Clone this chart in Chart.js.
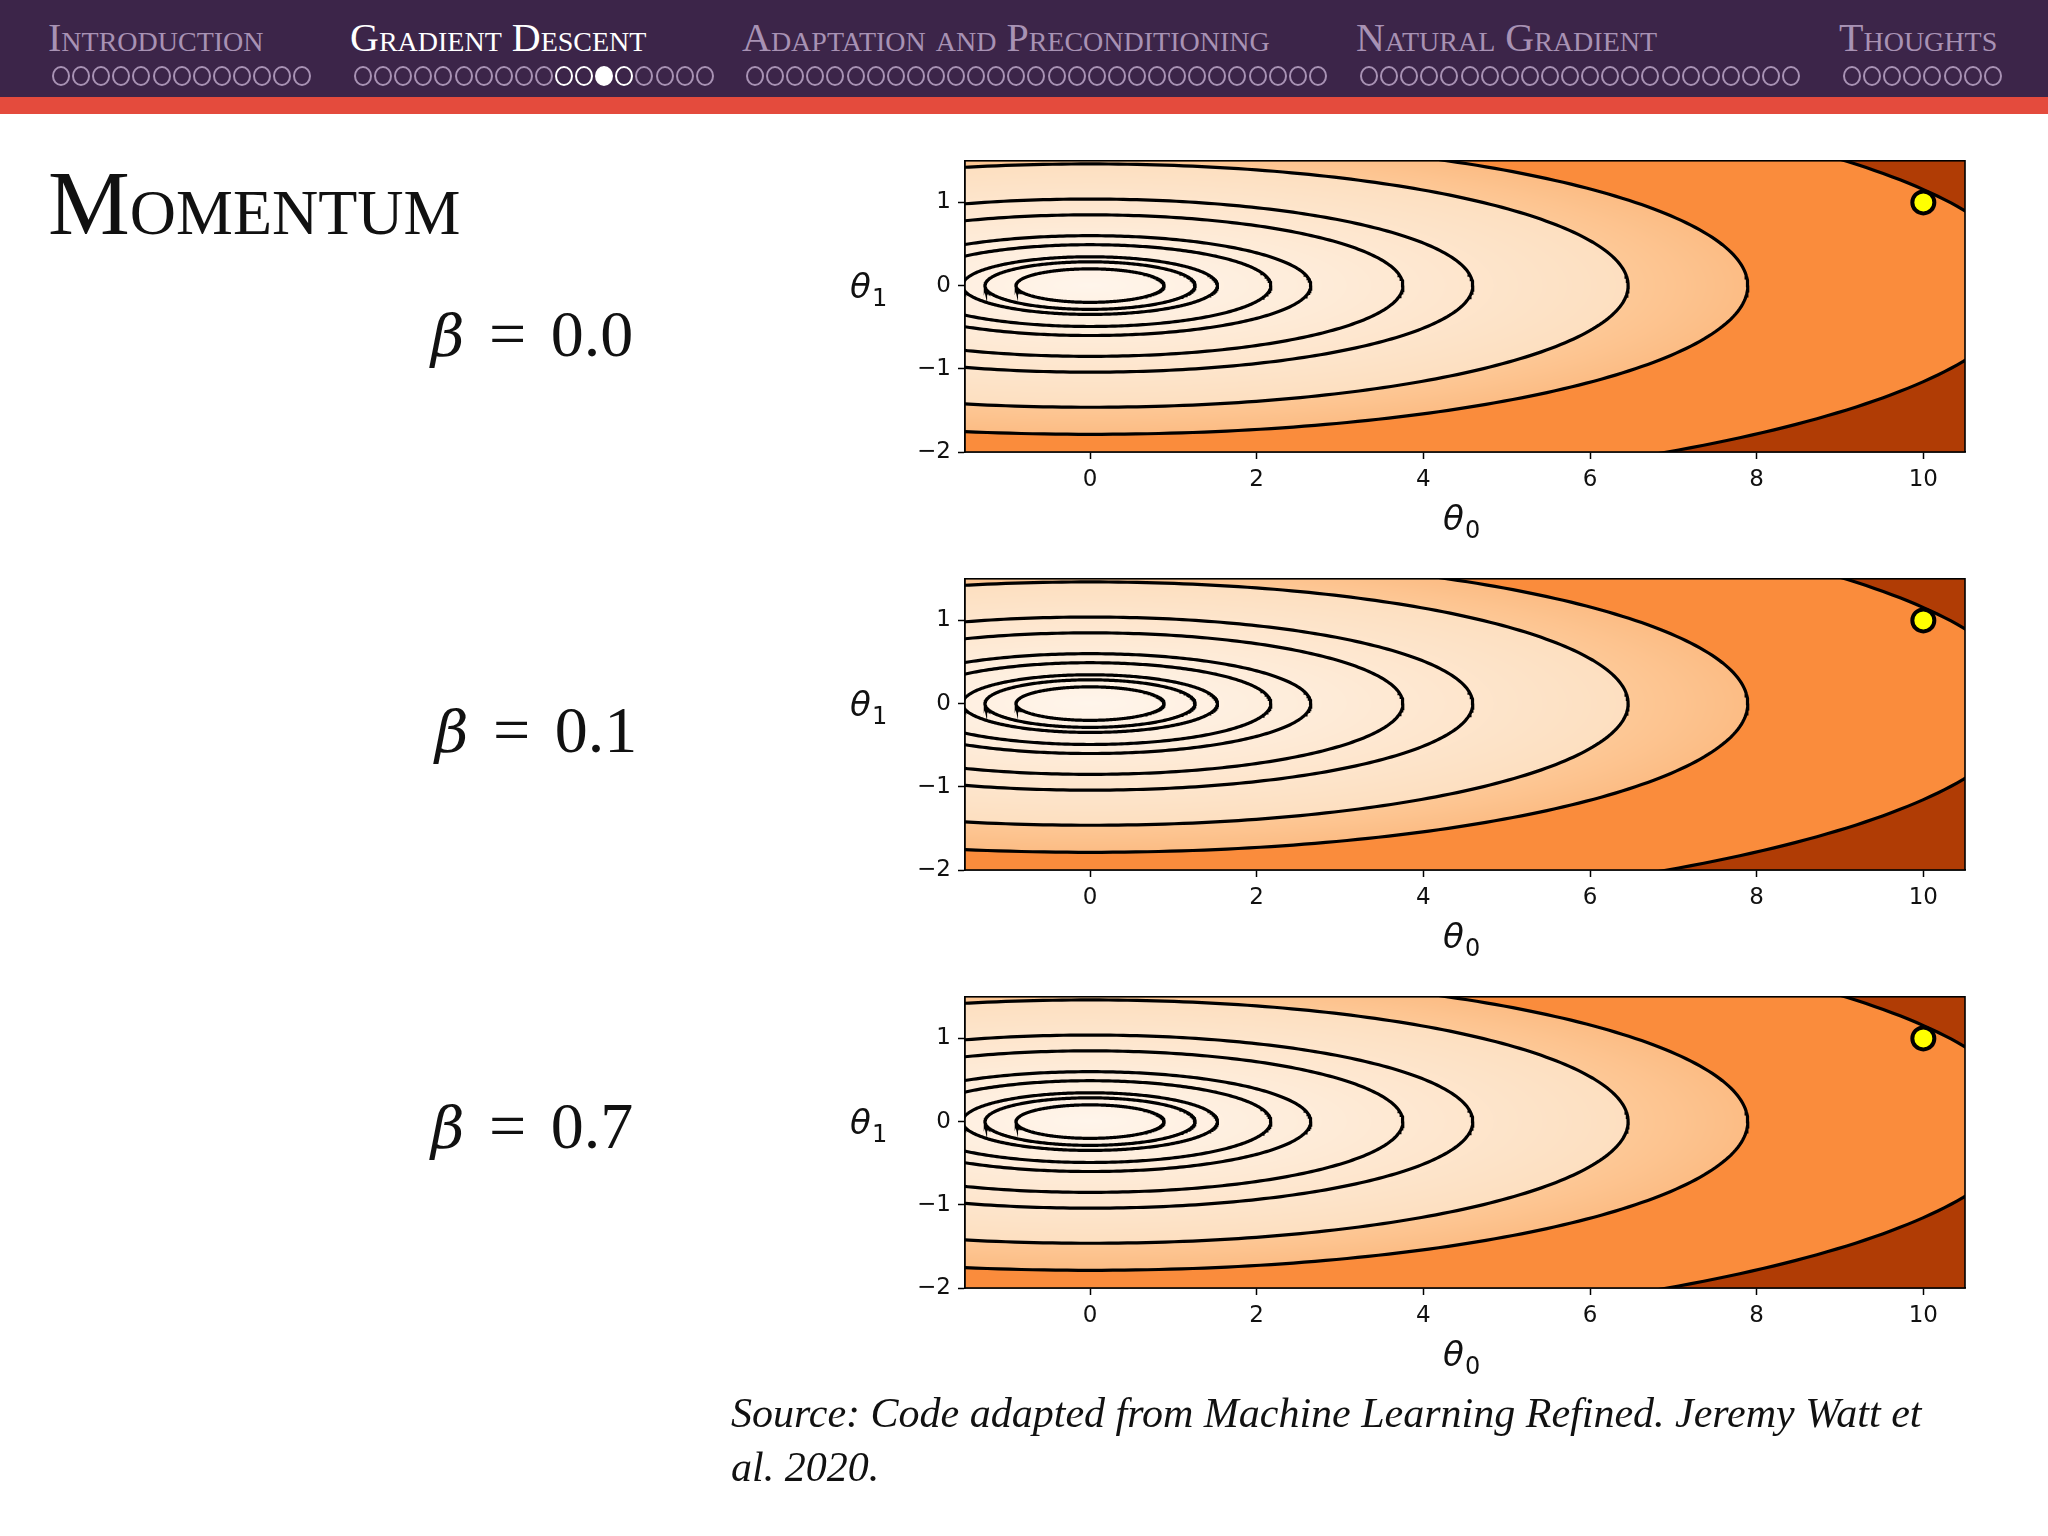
<!DOCTYPE html>
<html>
<head>
<meta charset="utf-8">
<script src="https://cdn.jsdelivr.net/npm/chart.js@4.4.1/dist/chart.umd.min.js"></script>
<style>
  body { margin: 0; width: 2048px; height: 1536px; background: #fff; position: relative; overflow: hidden; font-family: "Liberation Serif", "DejaVu Serif", serif; }
  #bar { position: absolute; left: 0; top: 0; width: 2048px; height: 97px; background: #3c2549; }
  #stripe { position: absolute; left: 0; top: 97px; width: 2048px; height: 17px; background: #e44b3d; }
  .sec { position: absolute; top: 14px; font-size: 40px; font-variant: small-caps; color: #a892b4; white-space: nowrap; }
  .sec.cur { color: #fff; }
  .dots { position: absolute; top: 66px; height: 20px; }
  .dot { position: absolute; top: 0; width: 18px; height: 20px; border: 2px solid #a892b4; border-radius: 50%; box-sizing: border-box; }
  .dot.w { border-color: #fff; }
  .dot.f { border-color: #fff; background: #fff; }
  #title { position: absolute; left: 48px; top: 150px; font-size: 92px; font-variant: small-caps; color: #111; }
  .beta { position: absolute; font-size: 66px; color: #111; white-space: nowrap; word-spacing: 8px; }
  .beta i { font-family: "DejaVu Serif", serif; font-size: 58px; }
  canvas.c { position: absolute; left: 840px; }
  #src { position: absolute; left: 731px; top: 1386px; width: 1200px; font-size: 42px; font-style: italic; line-height: 54px; color: #111; }
</style>
</head>
<body>
<div id="bar"></div><div id="stripe"></div>
<div id="nav"></div>
<div id="title">Momentum</div>
<div class="beta" style="left:431px;top:296px"><i>β</i> = 0.0</div>
<div class="beta" style="left:435px;top:692px"><i>β</i> = 0.1</div>
<div class="beta" style="left:431px;top:1088px"><i>β</i> = 0.7</div>
<canvas class="c" id="c0" style="top:140px"></canvas>
<canvas class="c" id="c1" style="top:558px"></canvas>
<canvas class="c" id="c2" style="top:976px"></canvas>
<div id="src">Source: Code adapted from Machine Learning Refined. Jeremy Watt et al. 2020.</div>
<script>
// header navigation
const sections = ["Introduction", "Gradient Descent", "Adaptation and Preconditioning", "Natural Gradient", "Thoughts"];
const sectionX = [48, 350, 742, 1356, 1839];
const sectionDots = [13, 18, 29, 22, 8];
const currentSection = 1;
const whiteDots = [10, 11, 13];
const filledDot = 12;

// contour data: f = theta0^2 + curvature * theta1^2
const curvature = 19.5;
const contourLevels = [0.79, 1.59, 2.34, 4.71, 7.02, 14.1, 21.1, 41.7, 62.3, 126];
const startPoint = [10, 1];
const xTicks = [0, 2, 4, 6, 8, 10];
const yTicks = [-2, -1, 0, 1];
const xRange = [-1.5, 10.5];
const yRange = [-2, 1.5];

const nav = document.getElementById("nav");
sections.forEach((s, i) => {
  const d = document.createElement("div");
  d.className = "sec" + (i === currentSection ? " cur" : "");
  d.style.left = sectionX[i] + "px";
  d.textContent = s;
  nav.appendChild(d);
  const row = document.createElement("div");
  row.className = "dots";
  row.style.left = (sectionX[i] + 4) + "px";
  for (let k = 0; k < sectionDots[i]; k++) {
    const o = document.createElement("div");
    o.className = "dot";
    if (i === currentSection && whiteDots.includes(k)) o.className += " w";
    if (i === currentSection && k === filledDot) o.className += " f";
    o.style.left = (k * 20.1) + "px";
    row.appendChild(o);
  }
  nav.appendChild(row);
});

function mix(a, b, t) {
  return [0, 1, 2].map(i => Math.round(a[i] + (b[i] - a[i]) * t));
}
function fillColor(f) {
  if (f >= contourLevels[9]) return [176, 60, 5];
  if (f >= contourLevels[8]) return [250, 140, 60];
  if (f >= contourLevels[7]) return mix([253, 200, 150], [252, 188, 132], (f - contourLevels[7]) / (contourLevels[8] - contourLevels[7]));
  return mix([255, 245, 235], [253, 223, 192], Math.sqrt(f / contourLevels[7]));
}

const contourFill = {
  id: "contourFill",
  beforeDatasetsDraw(chart) {
    const a = chart.chartArea, xs = chart.scales.x, ys = chart.scales.y;
    const w = Math.round(a.right - a.left), h = Math.round(a.bottom - a.top);
    const off = document.createElement("canvas");
    off.width = w; off.height = h;
    const octx = off.getContext("2d");
    const img = octx.createImageData(w, h);
    for (let j = 0; j < h; j++) {
      const yv = ys.getValueForPixel(a.top + j + 0.5);
      for (let i = 0; i < w; i++) {
        const xv = xs.getValueForPixel(a.left + i + 0.5);
        const c = fillColor(xv * xv + curvature * yv * yv);
        const p = (j * w + i) * 4;
        img.data[p] = c[0]; img.data[p + 1] = c[1]; img.data[p + 2] = c[2]; img.data[p + 3] = 255;
      }
    }
    octx.putImageData(img, 0, 0);
    chart.ctx.drawImage(off, a.left, a.top, w, h);
  },
  afterDraw(chart) {
    const a = chart.chartArea, ctx = chart.ctx;
    ctx.save();
    ctx.strokeStyle = "#000"; ctx.lineWidth = 1.6;
    ctx.strokeRect(a.left, a.top, a.right - a.left, a.bottom - a.top);
    ctx.fillStyle = "#111";
    ctx.font = "italic 34px 'DejaVu Sans'";
    ctx.textBaseline = "alphabetic";
    ctx.textAlign = "left";
    const cx = (a.left + a.right) / 2;
    const y0 = chart.scales.y.getPixelForValue(0);
    ctx.fillText("θ", cx - 22, a.bottom + 78);
    ctx.fillText("θ", 10, y0 + 12);
    ctx.font = "24px 'DejaVu Sans'";
    ctx.fillText("0", cx, a.bottom + 86);
    ctx.fillText("1", 32, y0 + 20);
    ctx.restore();
  }
};

function ellipse(L) {
  const pts = [];
  for (let k = 0; k <= 360; k++) {
    const t = k / 360 * 2 * Math.PI;
    pts.push({ x: Math.sqrt(L) * Math.cos(t), y: Math.sqrt(L / curvature) * Math.sin(t) });
  }
  return pts;
}

function makeChart(id) {
  const datasets = contourLevels.map(L => ({
    type: "line", data: ellipse(L), borderColor: "#000", borderWidth: 3.2,
    pointRadius: 0, fill: false, tension: 0
  }));
  datasets.push({
    type: "scatter", data: [{ x: startPoint[0], y: startPoint[1] }],
    backgroundColor: "#ffff00", borderColor: "#000", borderWidth: 4, pointRadius: 11
  });
  const tickFont = { family: "DejaVu Sans", size: 23 };
  new Chart(document.getElementById(id), {
    type: "scatter",
    data: { datasets },
    options: {
      responsive: false, animation: false, devicePixelRatio: 1,
      layout: { padding: { top: 19, right: 13, left: 0, bottom: 20 } },
      plugins: { legend: { display: false }, tooltip: { enabled: false } },
      scales: {
        x: {
          type: "linear", min: xRange[0], max: xRange[1],
          afterBuildTicks: s => { s.ticks = xTicks.map(v => ({ value: v })); },
          afterFit: s => { s.height = 90; },
          ticks: { color: "#111", font: tickFont, padding: 7, callback: v => String(v) },
          grid: { drawOnChartArea: false, tickLength: 7, tickColor: "#000", tickWidth: 1.5 },
          border: { color: "#000", width: 1.6 }
        },
        y: {
          type: "linear", min: yRange[0], max: yRange[1],
          afterBuildTicks: s => { s.ticks = yTicks.map(v => ({ value: v })); },
          afterFit: s => { s.width = 125; },
          ticks: { color: "#111", font: tickFont, padding: 7, callback: v => v < 0 ? "−" + Math.abs(v) : String(v) },
          grid: { drawOnChartArea: false, tickLength: 7, tickColor: "#000", tickWidth: 1.5 },
          border: { color: "#000", width: 1.6 }
        }
      }
    },
    plugins: [contourFill]
  });
}
["c0", "c1", "c2"].forEach(id => {
  const c = document.getElementById(id);
  c.width = 1140; c.height = 422;
  makeChart(id);
});
</script>
</body>
</html>
